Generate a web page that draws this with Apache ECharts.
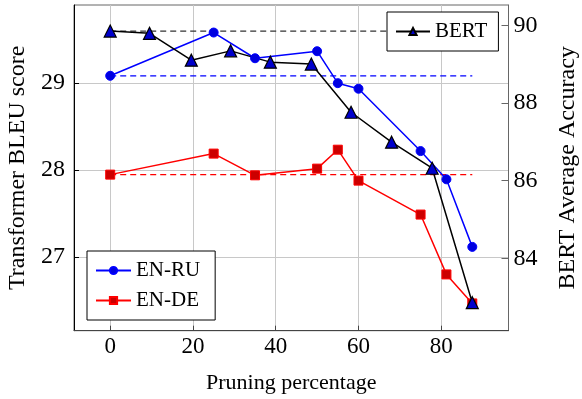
<!DOCTYPE html>
<html>
<head>
<meta charset="utf-8">
<script src="https://cdn.jsdelivr.net/npm/echarts@6/dist/echarts.min.js"></script>
<style>html,body{margin:0;padding:0;background:#fff;}#c{width:582px;height:399px;}</style>
</head>
<body>
<div id="c"></div>
<script>
const xTicks = [0, 20, 40, 60, 80];
const leftTicks = [27, 28, 29];
const rightTicks = [84, 86, 88, 90];

const enruX = [0, 25, 35, 50, 55, 60, 75, 81.25, 87.5];
const enruY = [29.085, 29.583, 29.287, 29.368, 29.0, 28.936, 28.218, 27.893, 27.115];
const endeX = [0, 25, 35, 50, 55, 60, 75, 81.25, 87.5];
const endeY = [27.947, 28.189, 27.939, 28.016, 28.234, 27.878, 27.487, 26.798, 26.464];
const bertX = [0, 9.5, 19.6, 29.1, 38.7, 48.6, 58.2, 68, 77.8, 87.5];
const bertY = [89.85, 89.79, 89.10, 89.34, 89.05, 89.0, 87.76, 86.99, 86.32, 82.86];

const enruBase = 29.085;
const endeBase = 27.947;
const bertBase = 89.85;
const baseRange = [0, 87.5];

const F = 'Liberation Serif';
const pairs = (xs, ys) => xs.map((x, i) => [x, ys[i]]);
const flat = (v) => baseRange.map(x => [x, v]);

const chart = echarts.init(document.getElementById('c'), null, {renderer: 'canvas'});
chart.setOption({
  animation: false,
  backgroundColor: '#fff',
  textStyle: {fontFamily: F, color: '#000'},
  grid: {left: 74, right: 73.5, top: 5, bottom: 68.3, show: true, borderColor: '#666', borderWidth: 1,
         outerBoundsMode: 'none', containLabel: false},
  legend: [
    {
      data: ['BERT'], left: 387, top: 12, orient: 'vertical',
      padding: [9, 11, 9, 8], itemWidth: 34, itemHeight: 9, itemGap: 0,
      backgroundColor: '#fff', borderColor: '#000', borderWidth: 1,
      textStyle: {fontFamily: F, fontSize: 21, color: '#000', lineHeight: 21}
    },
    {
      data: ['EN-RU', 'EN-DE'], left: 87, top: 251, orient: 'vertical',
      padding: [9, 15, 9, 8], itemWidth: 35, itemHeight: 9, itemGap: 9,
      backgroundColor: '#fff', borderColor: '#000', borderWidth: 1,
      textStyle: {fontFamily: F, fontSize: 21, color: '#000', lineHeight: 21}
    }
  ],
  xAxis: {
    type: 'value', min: -8.75, max: 96.25,
    name: 'Pruning percentage', nameLocation: 'middle', nameGap: 42,
    nameTextStyle: {fontFamily: F, fontSize: 22, color: '#000'},
    axisLine: {show: true, onZero: false, lineStyle: {color: '#444', width: 1}},
    axisTick: {show: true, inside: true, length: 5, customValues: xTicks, lineStyle: {color: '#444'}},
    axisLabel: {customValues: xTicks, fontFamily: F, fontSize: 23, color: '#000', margin: 5},
    splitLine: {show: true, lineStyle: {color: '#c8c8c8', width: 1}}
  },
  yAxis: [
    {
      type: 'value', position: 'left', min: 26.15, max: 29.9,
      name: 'Transformer BLEU score', nameLocation: 'middle', nameGap: 40,
      nameTextStyle: {fontFamily: F, fontSize: 24, color: '#000'},
      axisLine: {show: true, onZero: false, lineStyle: {color: '#000', width: 1}},
      axisTick: {show: true, inside: true, length: 5, customValues: leftTicks, lineStyle: {color: '#000'}},
      axisLabel: {customValues: leftTicks, fontFamily: F, fontSize: 24, color: '#000', margin: 9},
      splitLine: {show: true, lineStyle: {color: '#c8c8c8', width: 1}}
    },
    {
      type: 'value', position: 'right', min: 82.14, max: 90.52,
      name: 'BERT Average Accuracy', nameLocation: 'middle', nameGap: 47,
      nameTextStyle: {fontFamily: F, fontSize: 24, color: '#000'},
      axisLine: {show: true, onZero: false, lineStyle: {color: '#666', width: 1}},
      axisTick: {show: true, inside: true, length: 7, customValues: rightTicks, lineStyle: {color: '#666'}},
      axisLabel: {customValues: rightTicks, fontFamily: F, fontSize: 24, color: '#000', margin: 5},
      splitLine: {show: false}
    }
  ],
  series: [
    {name: 'enru-base', type: 'line', yAxisIndex: 0, data: flat(enruBase), symbol: 'none', silent: true,
     lineStyle: {color: '#0000ff', width: 1.3, type: [6, 4]}},
    {name: 'ende-base', type: 'line', yAxisIndex: 0, data: flat(endeBase), symbol: 'none', silent: true,
     lineStyle: {color: '#ff0000', width: 1.3, type: [6, 4]}},
    {name: 'bert-base', type: 'line', yAxisIndex: 1, data: flat(bertBase), symbol: 'none', silent: true,
     lineStyle: {color: '#333', width: 1.2, type: [6, 4]}},
    {name: 'EN-RU', type: 'line', yAxisIndex: 0, data: pairs(enruX, enruY),
     symbol: 'circle', symbolSize: 9, color: '#0000ff',
     lineStyle: {color: '#0000ff', width: 1.5},
     itemStyle: {color: '#0000e0', borderColor: '#0000ff', borderWidth: 1}},
    {name: 'EN-DE', type: 'line', yAxisIndex: 0, data: pairs(endeX, endeY),
     symbol: 'rect', symbolSize: 9, color: '#ff0000',
     lineStyle: {color: '#ff0000', width: 1.5},
     itemStyle: {color: '#cc0000', borderColor: '#ff0000', borderWidth: 1}},
    {name: 'BERT', type: 'line', yAxisIndex: 1, data: pairs(bertX, bertY),
     symbol: 'triangle', symbolSize: 12, color: '#000',
     lineStyle: {color: '#000', width: 1.5},
     itemStyle: {color: '#0000cc', borderColor: '#000', borderWidth: 1.2}}
  ]
});
</script>
</body>
</html>
